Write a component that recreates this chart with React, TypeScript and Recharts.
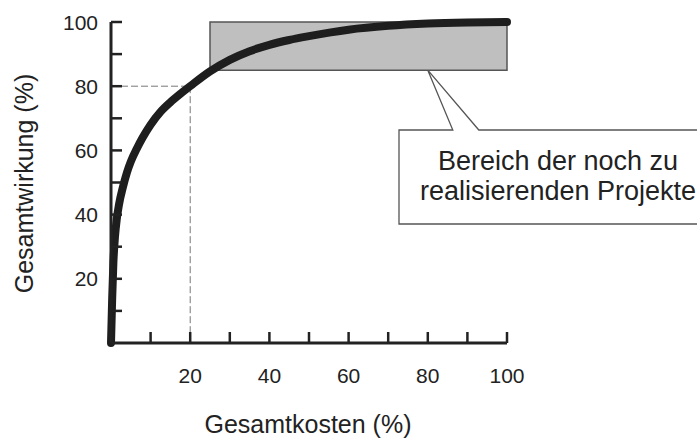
import React from "react";
import {LineChart, Line, XAxis, YAxis, ReferenceArea, ReferenceLine} from "recharts";

// Gesamtkosten (%) vs. Gesamtwirkung (%)
const kosten = [0, 0.3, 0.6, 1, 1.5, 2, 3, 4, 5, 6.5, 8, 10, 12.5, 15, 17.5, 20, 25, 30, 35, 40, 45, 50, 60, 70, 80, 90, 100];
const wirkung = [0, 14, 25, 33, 39, 43, 48.5, 53, 56.5, 60.5, 64, 68, 72, 75, 77.6, 80, 84.6, 88.2, 90.9, 92.9, 94.4, 95.6, 97.6, 98.8, 99.5, 99.85, 100];

const xTicks = [10, 20, 30, 40, 50, 60, 70, 80, 90, 100];
const yTicks = [10, 20, 30, 40, 50, 60, 70, 80, 90, 100];
const labeledTicks = [20, 40, 60, 80, 100];

// shaded region of remaining projects
const bereichX = [25, 100];
const bereichY = [85, 100];
// dashed guide point
const guide = {x: 20, y: 80};
const calloutTarget = {x: 80, y: 85};
const calloutLines = ["Bereich der noch zu", "realisierenden Projekte"];

const W = 697;
const H = 439;
const PLOT = {left: 111, top: 22, width: 396, height: 321};
const FONT = "'Liberation Sans', Arial, Helvetica, sans-serif";
const INK = "#222";

const data = kosten.map((k, i) => ({kosten: k, wirkung: wirkung[i]}));

const px = (v: number) => PLOT.left + (v / 100) * PLOT.width;
const py = (v: number) => PLOT.top + (1 - v / 100) * PLOT.height;

const XTick = (props: any) => {
  const {x, y, payload} = props;
  const v = payload.value;
  return (
    <g>
      <line x1={x} y1={y} x2={x} y2={y - 11} stroke={INK} strokeWidth={2.5}/>
      {labeledTicks.includes(v) && (
        <text x={x} y={y + 40} textAnchor="middle" fontSize={21} fontFamily={FONT} fill={INK}>{v}</text>
      )}
    </g>
  );
};

const YTick = (props: any) => {
  const {x, y, payload} = props;
  const v = payload.value;
  return (
    <g>
      <line x1={x} y1={y} x2={x + 11} y2={y} stroke={INK} strokeWidth={2.5}/>
      {labeledTicks.includes(v) && (
        <text x={x - 13} y={y + 7.5} textAnchor="end" fontSize={21} fontFamily={FONT} fill={INK}>{v}</text>
      )}
    </g>
  );
};

const Callout = () => {
  const tipX = px(calloutTarget.x);
  const tipY = py(calloutTarget.y);
  const left = 399, top = 130, bottom = 224, right = W + 10;
  return (
    <g>
      <path
        d={`M${left},${top} L${tipX + 25},${top} L${tipX},${tipY} L${tipX + 51},${top} L${right},${top} L${right},${bottom} L${left},${bottom} Z`}
        fill="#fff" stroke="#555" strokeWidth={1.3}/>
      {calloutLines.map((t, i) => (
        <text key={i} x={558} y={170 + i * 30} textAnchor="middle"
              fontSize={27} fontFamily={FONT} fill={INK}>{t}</text>
      ))}
      <text x={308} y={433} textAnchor="middle" fontSize={25} fontFamily={FONT} fill={INK}>Gesamtkosten (%)</text>
      <text x={33} y={183.5} textAnchor="middle" fontSize={25} fontFamily={FONT} fill={INK}
            transform="rotate(-90 33 183.5)">Gesamtwirkung (%)</text>
    </g>
  );
};

export default function App() {
  return (
    <div style={{position: "absolute", left: 0, top: 0, background: "#fff"}}>
      <LineChart width={W} height={H} data={data}
                 margin={{top: PLOT.top, right: W - PLOT.left - PLOT.width, bottom: 0, left: 0}}>
        <XAxis dataKey="kosten" type="number" domain={[0, 100]} ticks={xTicks} interval={0}
               height={H - PLOT.top - PLOT.height} tickSize={0} tickMargin={0} tick={<XTick/>}
               axisLine={{stroke: INK, strokeWidth: 3}}/>
        <YAxis type="number" domain={[0, 100]} ticks={yTicks} interval={0} width={PLOT.left}
               tickSize={0} tickMargin={0} tick={<YTick/>} axisLine={{stroke: INK, strokeWidth: 3}}/>
        <ReferenceArea x1={bereichX[0]} x2={bereichX[1]} y1={bereichY[0]} y2={bereichY[1]}
                       fill="#bfbfbf" fillOpacity={1} stroke="#555" strokeWidth={1.5}/>
        <ReferenceLine segment={[{x: 0, y: guide.y}, {x: guide.x, y: guide.y}]} stroke="#777"
                       strokeDasharray="7 3"/>
        <ReferenceLine segment={[{x: guide.x, y: guide.y}, {x: guide.x, y: 0}]} stroke="#777"
                       strokeDasharray="7 3"/>
        <Line dataKey="wirkung" type="monotone" stroke="#1e1e1e" strokeWidth={8} dot={false}
              strokeLinecap="round" isAnimationActive={false}/>
        <Callout/>
      </LineChart>
    </div>
  );
}
